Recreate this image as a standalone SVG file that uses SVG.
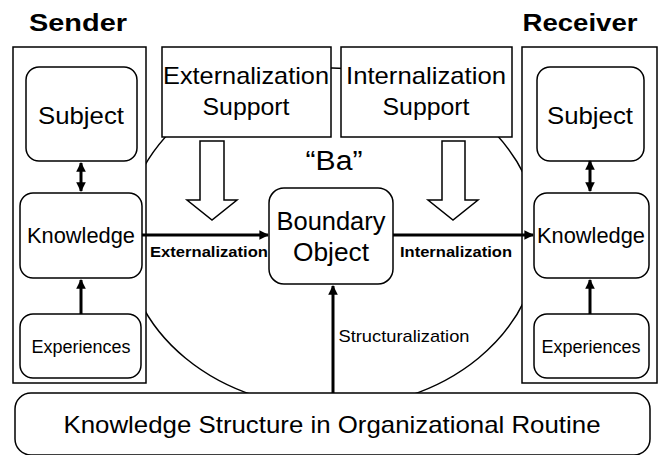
<svg xmlns="http://www.w3.org/2000/svg" width="659" height="455" viewBox="0 0 659 455">
<style>
text{font-family:"Liberation Sans",Arial,sans-serif;fill:#000;text-anchor:middle}
.b{fill:#fff;stroke:#000;stroke-width:1.5}
.t{font-size:24px}
.h{font-size:24px;font-weight:bold}
.lb{font-size:15px;font-weight:bold}
.c{stroke:#000;stroke-width:3;fill:none}
.ho{fill:#fff;stroke:#000;stroke-width:1.5}
</style>
<defs>
<marker id="ah" viewBox="0 0 10 10" refX="9" refY="5" markerWidth="3.2" markerHeight="3.2" orient="auto-start-reverse" markerUnits="strokeWidth">
<path d="M0,0L10,5L0,10z" fill="#000"/>
</marker>
</defs>
<g id="ba">
<ellipse cx="332" cy="238" rx="207" ry="170" fill="none" stroke="#000" stroke-width="1.5"/>
<text x="334" y="170" font-size="27" textLength="57" lengthAdjust="spacingAndGlyphs">“Ba”</text>
</g>
<g id="sender">
<text x="78" y="31" class="h" textLength="98" lengthAdjust="spacingAndGlyphs">Sender</text>
<rect x="13" y="47" width="133" height="336" class="b"/>
</g>
<g id="receiver">
<text x="580" y="31" class="h" textLength="115" lengthAdjust="spacingAndGlyphs">Receiver</text>
<rect x="522" y="47" width="135" height="336" class="b"/>
</g>
<g id="subject-s">
<rect x="26" y="67" width="111" height="94" rx="13" class="b"/>
<text x="81" y="124" class="t" textLength="86" lengthAdjust="spacingAndGlyphs">Subject</text>
</g>
<g id="knowledge-s">
<rect x="20" y="193" width="122" height="85" rx="13" class="b"/>
<text x="81" y="243" font-size="22" textLength="108" lengthAdjust="spacingAndGlyphs">Knowledge</text>
</g>
<g id="experiences-s">
<rect x="20" y="314" width="121" height="64" rx="13" class="b"/>
<text x="81" y="353" font-size="18" textLength="99" lengthAdjust="spacingAndGlyphs">Experiences</text>
</g>
<g id="subject-r">
<rect x="537" y="67" width="107" height="94" rx="13" class="b"/>
<text x="590" y="124" class="t" textLength="86" lengthAdjust="spacingAndGlyphs">Subject</text>
</g>
<g id="knowledge-r">
<rect x="534" y="193" width="115" height="85" rx="13" class="b"/>
<text x="591" y="243" font-size="22" textLength="108" lengthAdjust="spacingAndGlyphs">Knowledge</text>
</g>
<g id="experiences-r">
<rect x="534" y="314" width="115" height="64" rx="13" class="b"/>
<text x="591" y="353" font-size="18" textLength="99" lengthAdjust="spacingAndGlyphs">Experiences</text>
</g>
<g id="ext-support">
<rect x="162" y="47" width="169" height="90" class="b"/>
<text x="246" y="84" class="t" textLength="166" lengthAdjust="spacingAndGlyphs">Externalization</text>
<text x="246" y="115" class="t" textLength="87" lengthAdjust="spacingAndGlyphs">Support</text>
</g>
<g id="int-support">
<rect x="341" y="47" width="171" height="90" class="b"/>
<text x="426" y="84" class="t" textLength="160" lengthAdjust="spacingAndGlyphs">Internalization</text>
<text x="426" y="115" class="t" textLength="87" lengthAdjust="spacingAndGlyphs">Support</text>
</g>
<g id="boundary-object">
<rect x="269" y="188" width="124" height="96" rx="15" class="b"/>
<text x="331" y="230" font-size="25" textLength="109" lengthAdjust="spacingAndGlyphs">Boundary</text>
<text x="331" y="261" font-size="25" textLength="76" lengthAdjust="spacingAndGlyphs">Object</text>
</g>
<g id="routine">
<rect x="15" y="393" width="635" height="62" rx="16" class="b"/>
<text x="332" y="433" class="t" textLength="537" lengthAdjust="spacingAndGlyphs">Knowledge Structure in Organizational Routine</text>
</g>
<g id="connectors">
<line x1="81" y1="163" x2="81" y2="191" class="c" marker-start="url(#ah)" marker-end="url(#ah)"/>
<line x1="81" y1="314" x2="81" y2="280" class="c" marker-end="url(#ah)"/>
<line x1="590" y1="161" x2="590" y2="191" class="c" marker-start="url(#ah)" marker-end="url(#ah)"/>
<line x1="590" y1="314" x2="590" y2="280" class="c" marker-end="url(#ah)"/>
<line x1="142" y1="235" x2="268" y2="235" class="c" marker-end="url(#ah)"/>
<line x1="393" y1="235" x2="533" y2="235" class="c" marker-end="url(#ah)"/>
<line x1="333" y1="393" x2="333" y2="286" class="c" marker-end="url(#ah)"/>
<polygon points="200,141 224,141 224,200 237,200 212,220 187,200 200,200" class="ho"/>
<polygon points="442,141 465,141 465,200 478,200 453,220 428,200 442,200" class="ho"/>
<text x="209" y="257" class="lb" textLength="118" lengthAdjust="spacingAndGlyphs">Externalization</text>
<text x="456" y="257" class="lb" textLength="112" lengthAdjust="spacingAndGlyphs">Internalization</text>
<text x="404" y="342" font-size="17" textLength="131" lengthAdjust="spacingAndGlyphs">Structuralization</text>
</g>
</svg>
